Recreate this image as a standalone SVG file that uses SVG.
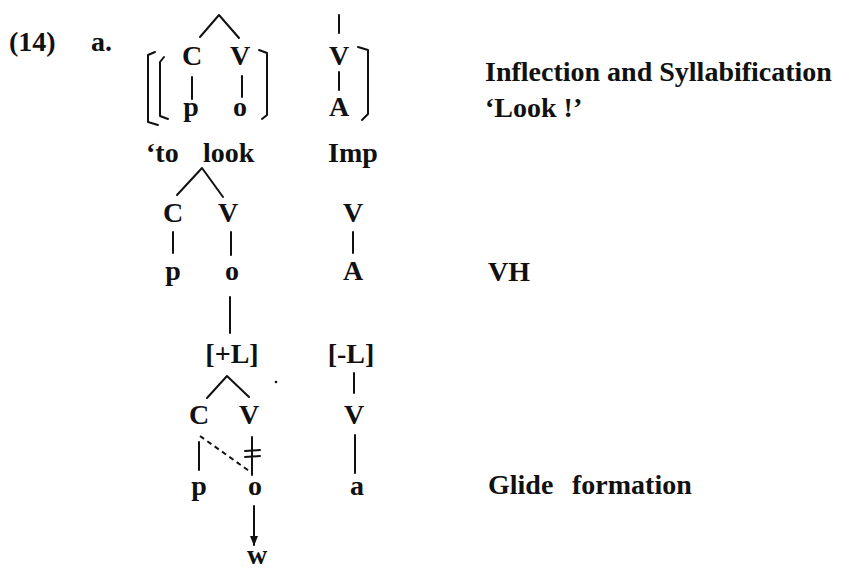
<svg xmlns="http://www.w3.org/2000/svg" width="850" height="572" viewBox="0 0 850 572">
<defs>
<style>
text{font-family:"Liberation Serif","Times New Roman",serif;font-size:28px;font-weight:bold;fill:#111}
.n{text-anchor:middle}
line,path,polyline{stroke:#111;stroke-width:2;fill:none;stroke-linecap:round;stroke-linejoin:round}
.dash{stroke-dasharray:5 4;stroke-linecap:butt}
</style>
<marker id="ah" viewBox="0 0 10 10" refX="9" refY="5" markerWidth="5" markerHeight="5" orient="auto">
<path d="M0,1 L10,5 L0,9 Z" style="fill:#111;stroke:none"/>
</marker>
</defs>
<rect width="850" height="572" fill="#fff"/>

<g id="label">
<text x="9" y="51">(14)</text>
<text x="91" y="51">a.</text>
</g>

<g id="brackets">
<path d="M155,52 L148,55 L148,122 L158,125"/>
<path d="M164,57 L160,62 L160,116 L168,119"/>
<path d="M259,50 L267,53 L267,115 L262,119"/>
<path d="M358,47 L368,50 L368,114 L362,120"/>
</g>

<g id="row1">
<text id="C1" class="n" x="192" y="65">C</text>
<text id="V1" class="n" x="240" y="65">V</text>
<text id="V1b" class="n" x="339" y="65">V</text>
<text id="p1" class="n" x="191" y="116">p</text>
<text id="o1" class="n" x="240" y="116">o</text>
<text id="A1" class="n" x="339" y="116">A</text>
<text id="gloss1" y="162"><tspan x="146">‘to</tspan><tspan x="203">look</tspan></text>
<text id="imp" x="328" y="162">Imp</text>
</g>

<g id="row2">
<text id="C2" class="n" x="173" y="222">C</text>
<text id="V2" class="n" x="228" y="222">V</text>
<text id="V2b" class="n" x="353" y="222">V</text>
<text id="p2" class="n" x="173" y="280">p</text>
<text id="o2" class="n" x="232" y="280">o</text>
<text id="A2" class="n" x="353" y="280">A</text>
</g>

<g id="row3">
<text id="plusL" class="n" x="232" y="363">[+L]</text>
<text id="minusL" class="n" x="351" y="363">[-L]</text>
<text id="C3" class="n" x="199" y="424">C</text>
<text id="V3" class="n" x="249" y="424">V</text>
<text id="V3b" class="n" x="354" y="424">V</text>
<text id="p3" class="n" x="199" y="495">p</text>
<text id="o3" class="n" x="255" y="495">o</text>
<text id="a3" class="n" x="357" y="495">a</text>
<text id="w3" class="n" x="257" y="564">w</text>
<circle cx="276" cy="382" r="1.3" fill="#111"/>
</g>

<g id="rightlabels">
<text x="485" y="81">Inflection and Syllabification</text>
<text x="485" y="117">‘Look !’</text>
<text x="488" y="281">VH</text>
<text y="494"><tspan x="488">Glide</tspan><tspan x="572">formation</tspan></text>
</g>

<g id="connectors">
<polyline points="200,37 219,15 239,38"/>
<line x1="192" y1="77" x2="192" y2="99"/>
<line x1="242" y1="76" x2="242" y2="97"/>
<line x1="339" y1="15" x2="339" y2="33"/>
<line x1="339" y1="72" x2="339" y2="90"/>

<polyline points="177,195 202,168 223,197"/>
<line x1="173" y1="232" x2="173" y2="253"/>
<line x1="231" y1="232" x2="231" y2="255"/>
<line x1="353" y1="232" x2="353" y2="253"/>
<line x1="230" y1="297" x2="230" y2="333"/>

<polyline points="207,398 227,376 249,397"/>
<line x1="354" y1="373" x2="354" y2="393"/>
<line x1="199" y1="442" x2="199" y2="470"/>
<line x1="252" y1="437" x2="252" y2="475"/>
<line class="dash" x1="200" y1="436" x2="252" y2="473"/>
<line x1="245" y1="451" x2="260" y2="450"/>
<line x1="245" y1="457" x2="260" y2="456"/>
<line x1="355" y1="435" x2="355" y2="473"/>
<line x1="254" y1="506" x2="254" y2="545" marker-end="url(#ah)"/>
</g>
</svg>
